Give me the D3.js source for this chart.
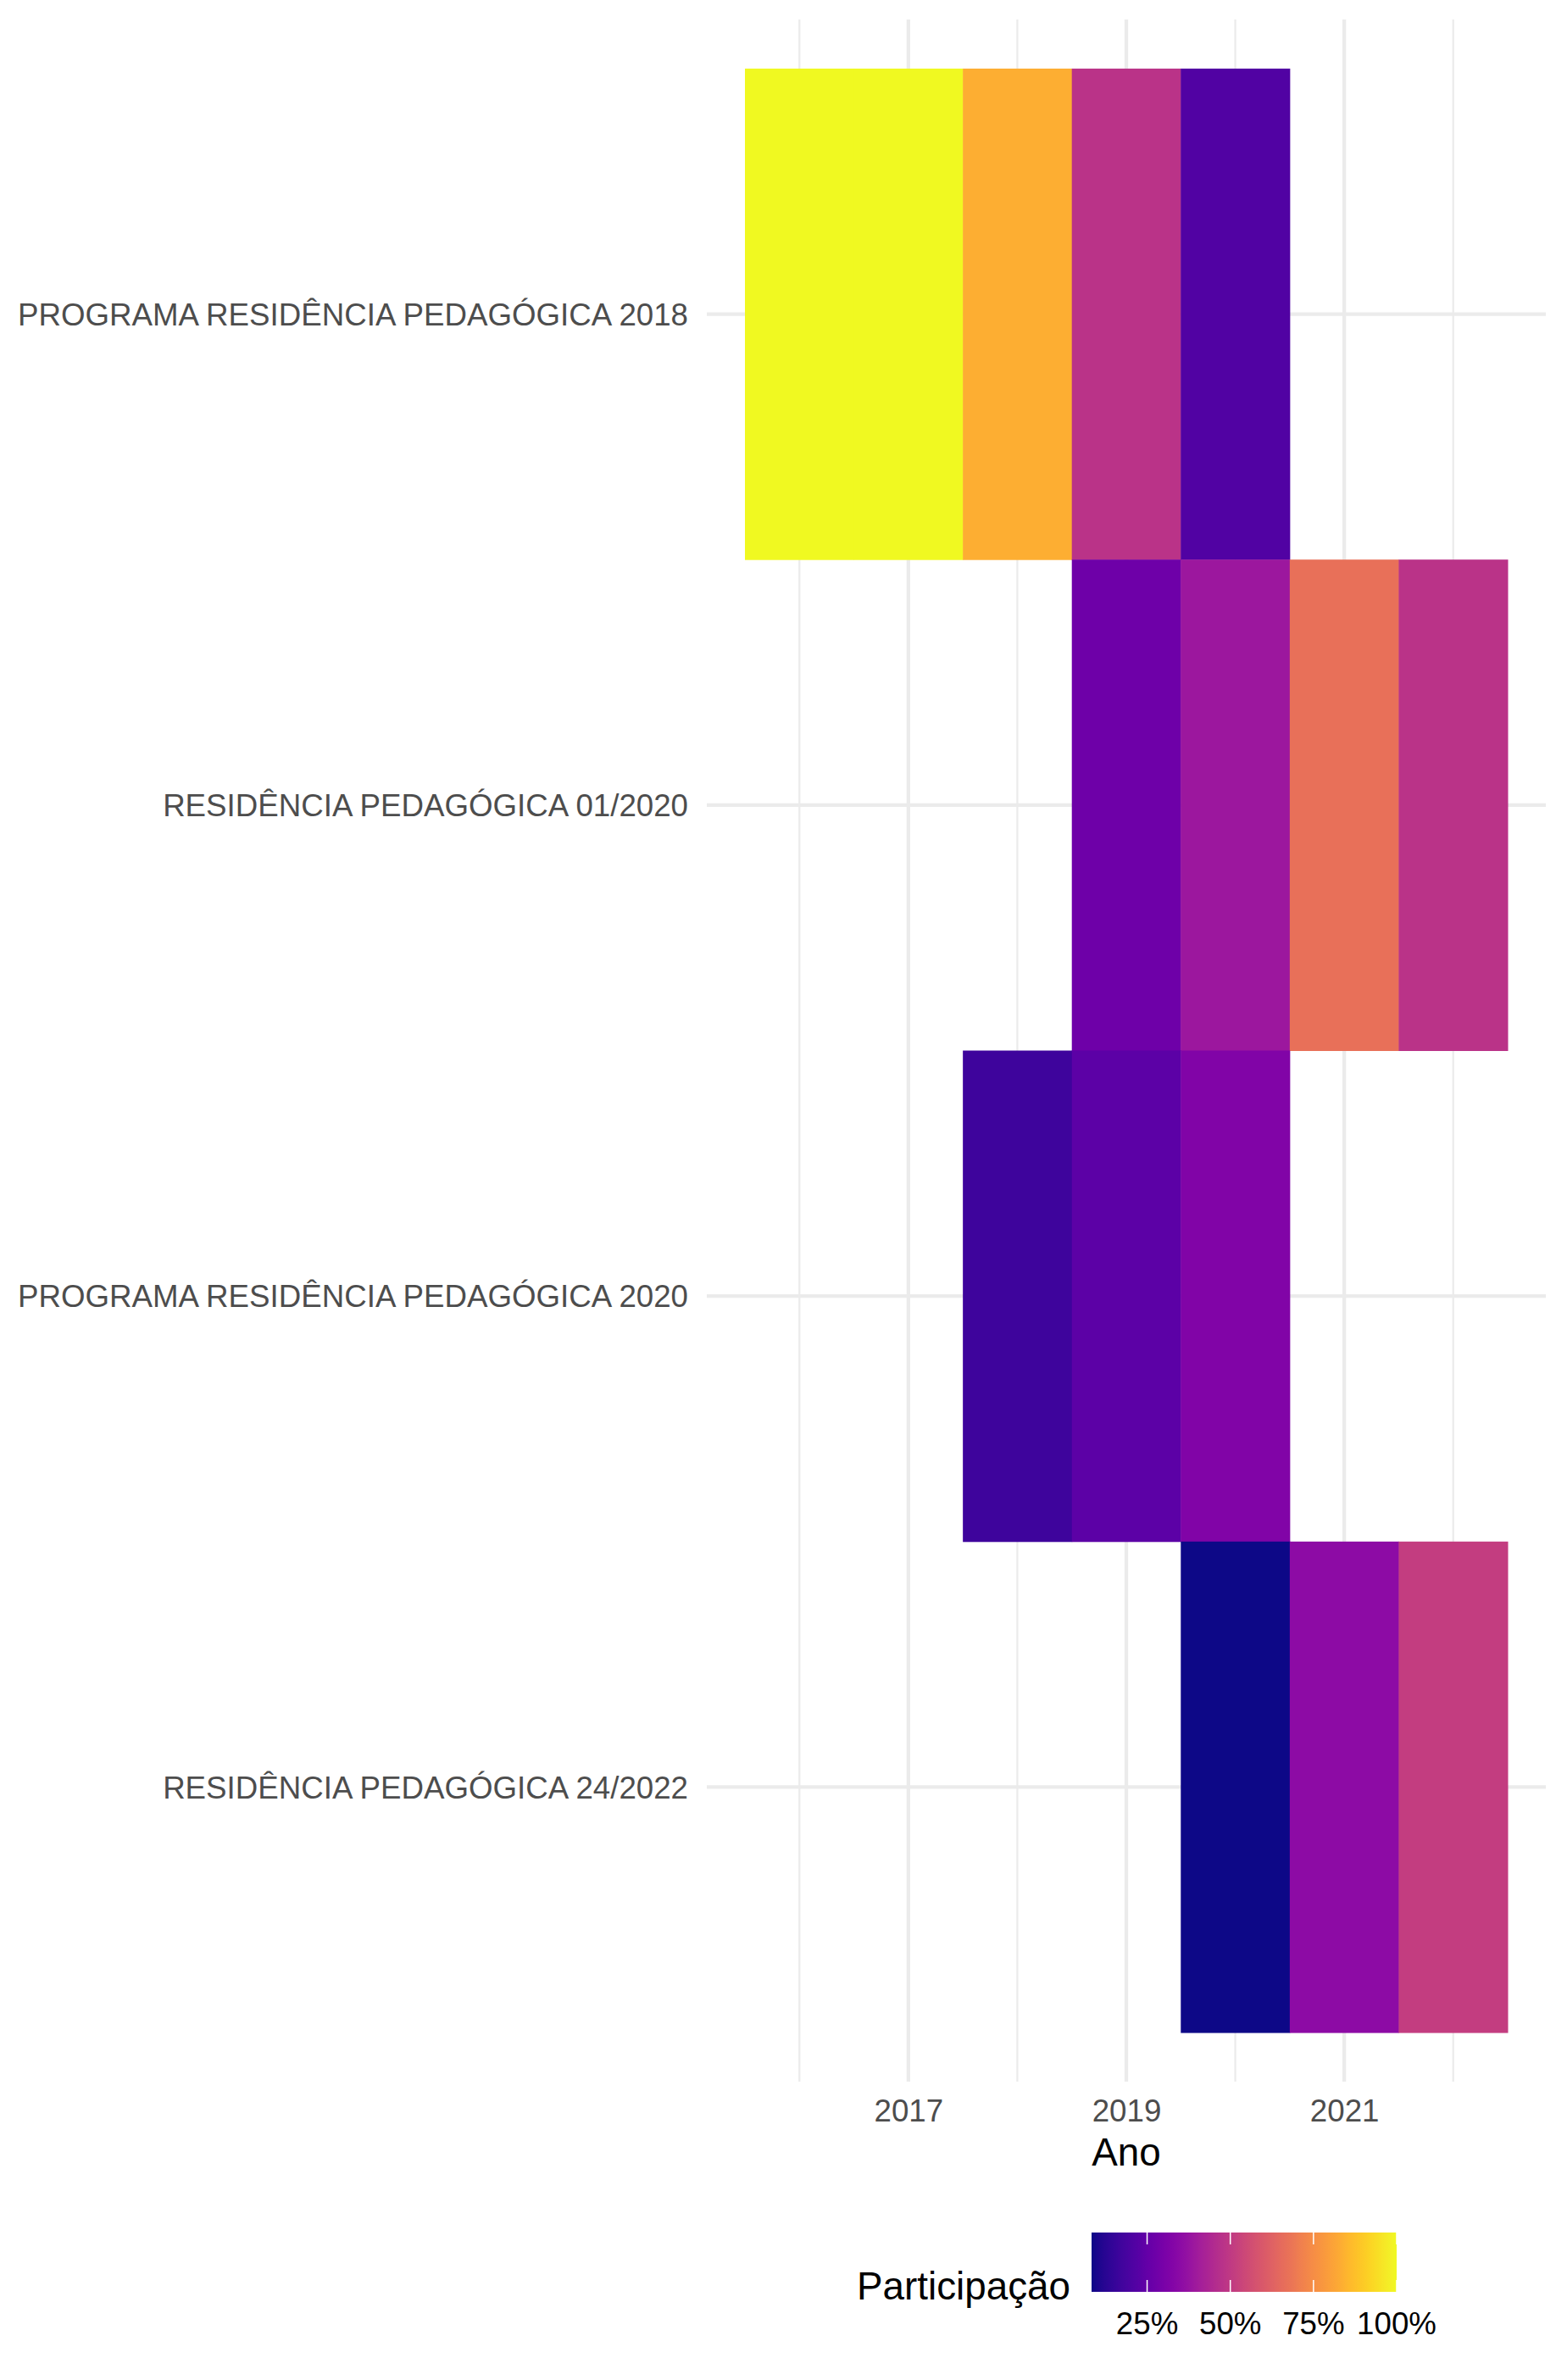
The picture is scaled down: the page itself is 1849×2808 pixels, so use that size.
<!DOCTYPE html>
<html>
<head>
<meta charset="utf-8">
<script src="https://cdn.jsdelivr.net/npm/d3@7"></script>
<style>
  html, body { margin: 0; padding: 0; background: #ffffff; }
  svg { display: block; }
  text { font-family: "Liberation Sans", Arial, Helvetica, sans-serif; }
</style>
</head>
<body>
<svg id="chart" width="1849" height="2808"></svg>
<script>
// ---- Data ----
const programs = [
  "PROGRAMA RESIDÊNCIA PEDAGÓGICA 2018",
  "RESIDÊNCIA PEDAGÓGICA 01/2020",
  "PROGRAMA RESIDÊNCIA PEDAGÓGICA 2020",
  "RESIDÊNCIA PEDAGÓGICA 24/2022"
];
const years2018Program = [2016, 2017, 2018, 2019, 2020];
const values2018Program = [100, 100, 83.5, 47.8, 21.1];
const years0120 = [2019, 2020, 2021, 2022];
const values0120 = [27.6, 39.0, 67.0, 47.8];
const years2020Program = [2018, 2019, 2020];
const values2020Program = [16.6, 23.4, 32.0];
const years2422 = [2020, 2021, 2022];
const values2422 = [8.3, 34.9, 51.0];
const xTickLabels = ["2017", "2019", "2021"];
const legendTicks = [25, 50, 75, 100];
const xTitle = "Ano";
const legendTitle = "Participação";

const series = [
  { program: programs[0], years: years2018Program, values: values2018Program },
  { program: programs[1], years: years0120, values: values0120 },
  { program: programs[2], years: years2020Program, values: values2020Program },
  { program: programs[3], years: years2422, values: values2422 }
];
const cells = [];
series.forEach(s => s.years.forEach((y, i) => cells.push({ program: s.program, year: y, value: s.values[i] })));

// ---- Layout ----
const svg = d3.select("#chart");
const panel = { left: 834, right: 1824, top: 23, bottom: 2456 };
const axisTextSize = 36.7, titleSize = 45.8;

const yrExtent = d3.extent(cells, d => d.year);
const lo = yrExtent[0] - 0.5, hi = yrExtent[1] + 0.5, ex = (hi - lo) * 0.05;
const x = d3.scaleLinear().domain([lo - ex, hi + ex]).range([panel.left, panel.right]);
const y = d3.scaleBand().domain(programs).range([panel.top, panel.bottom]).paddingInner(0).paddingOuter(0.1);

const vExtent = d3.extent(cells, d => d.value);
const color = d3.scaleSequential(d3.interpolatePlasma).domain(vExtent);

// gridlines
const grid = svg.append("g");
const minorYears = d3.range(yrExtent[0], yrExtent[1] + 1).filter(v => !xTickLabels.includes(String(v)));
grid.selectAll("line.minor").data(minorYears).enter().append("line")
  .attr("x1", d => x(d)).attr("x2", d => x(d))
  .attr("y1", panel.top).attr("y2", panel.bottom)
  .attr("stroke", "#EBEBEB").attr("stroke-width", 2.2);
grid.selectAll("line.majx").data(xTickLabels.map(Number)).enter().append("line")
  .attr("x1", d => x(d)).attr("x2", d => x(d))
  .attr("y1", panel.top).attr("y2", panel.bottom)
  .attr("stroke", "#EBEBEB").attr("stroke-width", 4.3);
grid.selectAll("line.majy").data(programs).enter().append("line")
  .attr("x1", panel.left).attr("x2", panel.right)
  .attr("y1", d => y(d) + y.bandwidth() / 2).attr("y2", d => y(d) + y.bandwidth() / 2)
  .attr("stroke", "#EBEBEB").attr("stroke-width", 4.3);

// tiles
svg.append("g").selectAll("rect").data(cells).enter().append("rect")
  .attr("x", d => x(d.year - 0.5))
  .attr("width", d => x(d.year + 0.5) - x(d.year - 0.5) + 0.5)
  .attr("y", d => y(d.program))
  .attr("height", y.bandwidth() + 0.5)
  .attr("fill", d => color(d.value));

// x axis
const xAxis = d3.axisBottom(x).tickValues(xTickLabels.map(Number)).tickFormat(d3.format("d")).tickSize(0).tickPadding(0);
const gx = svg.append("g").attr("transform", `translate(0,${panel.bottom})`).call(xAxis);
gx.select(".domain").remove();
gx.selectAll("text").attr("y", 47).attr("dy", null)
  .attr("font-size", axisTextSize).attr("fill", "#4D4D4D")
  .attr("font-family", "Liberation Sans, Arial, sans-serif");

// y axis
const yAxis = d3.axisLeft(y).tickSize(0).tickPadding(0);
const gy = svg.append("g").attr("transform", `translate(${panel.left},0)`).call(yAxis);
gy.select(".domain").remove();
gy.selectAll("text").attr("x", -22).attr("dy", null).attr("y", 13.1)
  .attr("font-size", axisTextSize).attr("fill", "#4D4D4D")
  .attr("font-family", "Liberation Sans, Arial, sans-serif");

// x title
svg.append("text").attr("x", (panel.left + panel.right) / 2).attr("y", 2555)
  .attr("text-anchor", "middle").attr("font-size", titleSize).attr("fill", "#000")
  .text(xTitle);

// legend
const bar = { left: 1288, right: 1648, top: 2634, bottom: 2704 };
const lx = d3.scaleLinear().domain(vExtent).range([bar.left, bar.right]);
const defs = svg.append("defs");
const grad = defs.append("linearGradient").attr("id", "plasmaGrad")
  .attr("x1", "0%").attr("x2", "100%").attr("y1", "0%").attr("y2", "0%");
d3.range(0, 1.0001, 0.02).forEach(t => {
  grad.append("stop").attr("offset", (t * 100) + "%").attr("stop-color", d3.interpolatePlasma(t));
});
svg.append("rect").attr("x", bar.left).attr("y", bar.top)
  .attr("width", bar.right - bar.left).attr("height", bar.bottom - bar.top)
  .attr("fill", "url(#plasmaGrad)");
const tickLen = (bar.bottom - bar.top) / 5;
const lt = svg.append("g");
legendTicks.forEach(v => {
  lt.append("line").attr("x1", lx(v)).attr("x2", lx(v)).attr("y1", bar.top).attr("y2", bar.top + tickLen)
    .attr("stroke", "#ffffff").attr("stroke-width", 1.5);
  lt.append("line").attr("x1", lx(v)).attr("x2", lx(v)).attr("y1", bar.bottom - tickLen).attr("y2", bar.bottom)
    .attr("stroke", "#ffffff").attr("stroke-width", 1.5);
  lt.append("text").attr("x", lx(v)).attr("y", 2754).attr("text-anchor", "middle")
    .attr("font-size", axisTextSize).attr("fill", "#000").text(v + "%");
});
svg.append("text").attr("x", 1263).attr("y", 2713).attr("text-anchor", "end")
  .attr("font-size", titleSize).attr("fill", "#000").text(legendTitle);
</script>
</body>
</html>
